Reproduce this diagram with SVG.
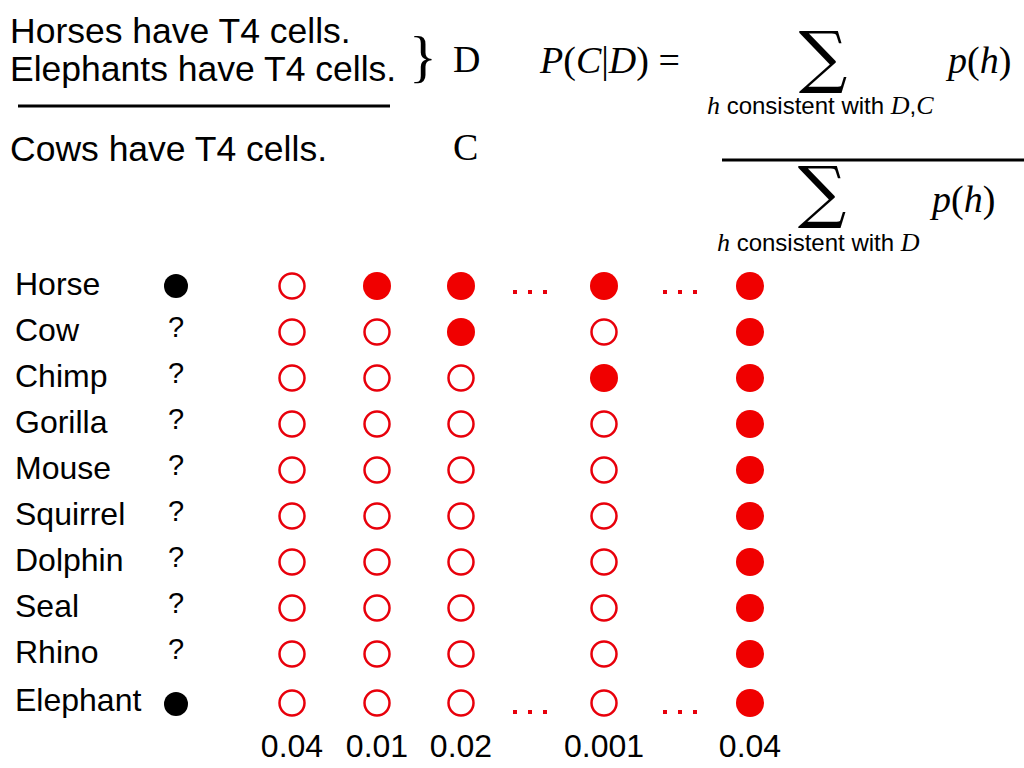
<svg xmlns="http://www.w3.org/2000/svg" width="1024" height="768" viewBox="0 0 1024 768">
<style>
.t{font-family:"Liberation Sans",Arial,sans-serif;font-size:32px;fill:#000}
.tt{font-family:"Liberation Sans",Arial,sans-serif;font-size:35.5px;fill:#000}
.s{font-family:"Liberation Serif","Times New Roman",serif;fill:#000}
.m{font-family:"Liberation Serif","Times New Roman",serif;font-style:italic;font-size:38px;fill:#000}
.sub{font-family:"Liberation Sans",Arial,sans-serif;font-size:24px;fill:#000}
.sm{font-family:"Liberation Serif","Times New Roman",serif;font-style:italic;font-size:26px}
.sig{font-family:"DejaVu Serif",serif;font-size:68px;fill:#000;text-anchor:middle}
.o{fill:none;stroke:#e8000b;stroke-width:2.5}
.f{fill:#f00000}
.k{fill:#000}
.q{font-family:"Liberation Sans",Arial,sans-serif;font-size:29px;fill:#000;text-anchor:middle}
.n{font-family:"Liberation Sans",Arial,sans-serif;font-size:32px;fill:#000;text-anchor:middle}
.d{fill:#e8000b}
</style>
<rect width="1024" height="768" fill="#fff"/>
<g id="premises">
<text class="tt" x="10" y="43">Horses have T4 cells.</text>
<text class="tt" x="10" y="81">Elephants have T4 cells.</text>
<line x1="18" y1="106" x2="390" y2="106" stroke="#000" stroke-width="3"/>
<text class="tt" x="10" y="161">Cows have T4 cells.</text>
<text class="s" x="409" y="76" font-size="58">}</text>
<text class="s" x="453" y="72" font-size="38">D</text>
<text class="s" x="453" y="160" font-size="38">C</text>
</g>
<g id="formula">
<text class="m" x="540" y="73">P<tspan font-style="normal">(</tspan>C<tspan font-style="normal">|</tspan>D<tspan font-style="normal">) =</tspan></text>
<text class="sig" x="823" y="80">∑</text>
<text class="m" x="948" y="73">p<tspan font-style="normal">(</tspan>h<tspan font-style="normal">)</tspan></text>
<text class="sub" x="707" y="114"><tspan class="sm">h</tspan> consistent with <tspan class="sm">D</tspan>,<tspan class="sm">C</tspan></text>
<line x1="722" y1="160" x2="1024" y2="160" stroke="#000" stroke-width="3"/>
<text class="sig" x="822" y="215">∑</text>
<text class="m" x="932" y="212">p<tspan font-style="normal">(</tspan>h<tspan font-style="normal">)</tspan></text>
<text class="sub" x="717" y="251"><tspan class="sm">h</tspan> consistent with <tspan class="sm">D</tspan></text>
</g>
<g id="labels">
<text class="t" x="15" y="295">Horse</text>
<text class="t" x="15" y="341">Cow</text>
<text class="t" x="15" y="387">Chimp</text>
<text class="t" x="15" y="433">Gorilla</text>
<text class="t" x="15" y="479">Mouse</text>
<text class="t" x="15" y="525">Squirrel</text>
<text class="t" x="15" y="571">Dolphin</text>
<text class="t" x="15" y="617">Seal</text>
<text class="t" x="15" y="663">Rhino</text>
<text class="t" x="15" y="711">Elephant</text>
</g>
<g id="observed">
<circle class="k" cx="176" cy="286" r="12"/>
<text class="q" x="176" y="337">?</text>
<text class="q" x="176" y="383">?</text>
<text class="q" x="176" y="429">?</text>
<text class="q" x="176" y="475">?</text>
<text class="q" x="176" y="521">?</text>
<text class="q" x="176" y="567">?</text>
<text class="q" x="176" y="613">?</text>
<text class="q" x="176" y="659">?</text>
<circle class="k" cx="176" cy="704" r="12"/>
</g>
<g id="h1">
<circle class="o" cx="292" cy="286" r="12.5"/><circle class="o" cx="292" cy="332" r="12.5"/><circle class="o" cx="292" cy="378" r="12.5"/><circle class="o" cx="292" cy="424" r="12.5"/><circle class="o" cx="292" cy="470" r="12.5"/><circle class="o" cx="292" cy="516" r="12.5"/><circle class="o" cx="292" cy="562" r="12.5"/><circle class="o" cx="292" cy="608" r="12.5"/><circle class="o" cx="292" cy="654" r="12.5"/><circle class="o" cx="292" cy="703" r="12.5"/>
<text class="n" x="292" y="757">0.04</text>
</g>
<g id="h2">
<circle class="f" cx="377" cy="286" r="14"/><circle class="o" cx="377" cy="332" r="12.5"/><circle class="o" cx="377" cy="378" r="12.5"/><circle class="o" cx="377" cy="424" r="12.5"/><circle class="o" cx="377" cy="470" r="12.5"/><circle class="o" cx="377" cy="516" r="12.5"/><circle class="o" cx="377" cy="562" r="12.5"/><circle class="o" cx="377" cy="608" r="12.5"/><circle class="o" cx="377" cy="654" r="12.5"/><circle class="o" cx="377" cy="703" r="12.5"/>
<text class="n" x="377" y="757">0.01</text>
</g>
<g id="h3">
<circle class="f" cx="461" cy="286" r="14"/><circle class="f" cx="461" cy="332" r="14"/><circle class="o" cx="461" cy="378" r="12.5"/><circle class="o" cx="461" cy="424" r="12.5"/><circle class="o" cx="461" cy="470" r="12.5"/><circle class="o" cx="461" cy="516" r="12.5"/><circle class="o" cx="461" cy="562" r="12.5"/><circle class="o" cx="461" cy="608" r="12.5"/><circle class="o" cx="461" cy="654" r="12.5"/><circle class="o" cx="461" cy="703" r="12.5"/>
<text class="n" x="461" y="757">0.02</text>
</g>
<g id="h4">
<circle class="f" cx="604" cy="286" r="14"/><circle class="o" cx="604" cy="332" r="12.5"/><circle class="f" cx="604" cy="378" r="14"/><circle class="o" cx="604" cy="424" r="12.5"/><circle class="o" cx="604" cy="470" r="12.5"/><circle class="o" cx="604" cy="516" r="12.5"/><circle class="o" cx="604" cy="562" r="12.5"/><circle class="o" cx="604" cy="608" r="12.5"/><circle class="o" cx="604" cy="654" r="12.5"/><circle class="o" cx="604" cy="703" r="12.5"/>
<text class="n" x="604" y="757">0.001</text>
</g>
<g id="h5">
<circle class="f" cx="750" cy="286" r="14"/><circle class="f" cx="750" cy="332" r="14"/><circle class="f" cx="750" cy="378" r="14"/><circle class="f" cx="750" cy="424" r="14"/><circle class="f" cx="750" cy="470" r="14"/><circle class="f" cx="750" cy="516" r="14"/><circle class="f" cx="750" cy="562" r="14"/><circle class="f" cx="750" cy="608" r="14"/><circle class="f" cx="750" cy="654" r="14"/><circle class="f" cx="750" cy="703" r="14"/>
<text class="n" x="750" y="757">0.04</text>
</g>
<g id="ellipses">
<rect class="d" x="513" y="290" width="4" height="4"/><rect class="d" x="528" y="290" width="4" height="4"/><rect class="d" x="543" y="290" width="4" height="4"/>
<rect class="d" x="663" y="290" width="4" height="4"/><rect class="d" x="678" y="290" width="4" height="4"/><rect class="d" x="693" y="290" width="4" height="4"/>
<rect class="d" x="513" y="710" width="4" height="4"/><rect class="d" x="528" y="710" width="4" height="4"/><rect class="d" x="543" y="710" width="4" height="4"/>
<rect class="d" x="663" y="710" width="4" height="4"/><rect class="d" x="678" y="710" width="4" height="4"/><rect class="d" x="693" y="710" width="4" height="4"/>
</g>
</svg>
